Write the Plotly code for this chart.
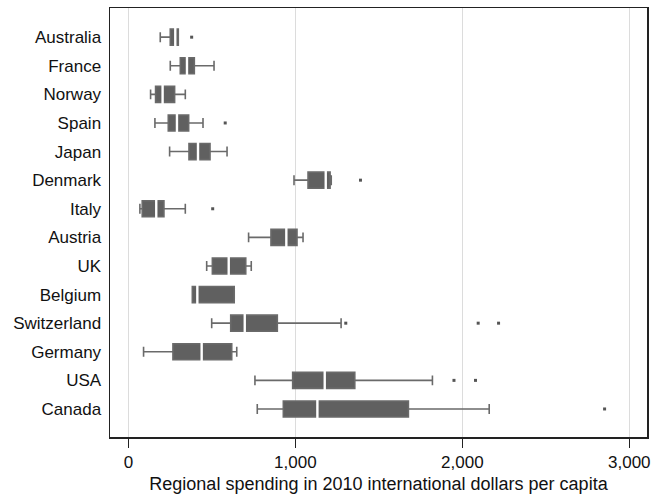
import plotly.graph_objects as go

countries = ["Australia", "France", "Norway", "Spain", "Japan", "Denmark", "Italy",
             "Austria", "UK", "Belgium", "Switzerland", "Germany", "USA", "Canada"]
lower_whisker = [191, 251, 133, 159, 247, 992, 69, 720, 469, 383, 499, 91, 758, 772]
q1 = [251, 311, 163, 239, 363, 1076, 83, 854, 503, 383, 613, 267, 984, 928]
median = [281, 351, 205, 291, 417, 1182, 167, 946, 601, 413, 697, 439, 1176, 1132]
q3 = [299, 395, 277, 361, 489, 1208, 213, 1010, 703, 634, 892, 619, 1356, 1677]
upper_whisker = [299, 513, 341, 447, 591, 1215, 341, 1046, 736, 634, 1274, 649, 1821, 2161]
outliers = {
    "Australia": [379],
    "Spain": [580],
    "Denmark": [1390],
    "Italy": [505],
    "Switzerland": [1302, 2095, 2217],
    "USA": [1950, 2079],
    "Canada": [2852],
}
x_ticks = [0, 1000, 2000, 3000]
x_tick_labels = ["0", "1,000", "2,000", "3,000"]
x_title = "Regional spending in 2010 international dollars per capita"

FONT = "Liberation Sans, Arial, Helvetica, sans-serif"
BOX_FILL = "#606060"
WHISKER = "#6a6a6a"

fig = go.Figure()
fig.add_trace(go.Box(
    y=countries, q1=q1, median=median, q3=q3,
    lowerfence=lower_whisker, upperfence=upper_whisker,
    orientation="h", boxpoints=False,
    fillcolor=BOX_FILL, line=dict(color=WHISKER, width=1.6),
    width=0.56, whiskerwidth=0.62, showlegend=False, hoverinfo="skip",
))
# white median bars
fig.add_trace(go.Scatter(
    x=median, y=countries, mode="markers",
    marker=dict(symbol="line-ns", size=15, line=dict(color="white", width=2.4)),
    showlegend=False, hoverinfo="skip",
))
ox, oy = [], []
for c, vals in outliers.items():
    for v in vals:
        ox.append(v)
        oy.append(c)
fig.add_trace(go.Scatter(
    x=ox, y=oy, mode="markers",
    marker=dict(symbol="square", size=3, color="#555555"),
    showlegend=False, hoverinfo="skip",
))

fig.update_layout(
    width=652, height=498,
    margin=dict(l=110, r=5, t=8, b=61),
    paper_bgcolor="white", plot_bgcolor="white",
    font=dict(family=FONT, size=17, color="#111111"),
)
fig.update_xaxes(
    range=[-110, 3106], tickvals=x_ticks, ticktext=x_tick_labels,
    showgrid=True, gridcolor="#dcdcdc", gridwidth=1.2, zeroline=False,
    showline=True, linecolor="#222222", linewidth=1.5, mirror=True,
    ticks="outside", ticklen=9, tickwidth=1.5, tickcolor="#222222",
    tickfont=dict(size=17), automargin=False,
    title=dict(text=x_title, font=dict(size=18), standoff=6),
)
fig.update_yaxes(
    type="category", categoryorder="array", categoryarray=countries,
    range=[13.98, -1.02], showgrid=False, zeroline=False,
    showline=True, linecolor="#222222", linewidth=1.5, mirror=True,
    ticks="", ticklabelstandoff=4, tickfont=dict(size=17), automargin=False,
)

fig.write_html(
    "out.html",
    config={"displayModeBar": False, "staticPlot": True},
    post_script="document.body.style.margin='0';document.body.style.overflow='hidden';",
)
